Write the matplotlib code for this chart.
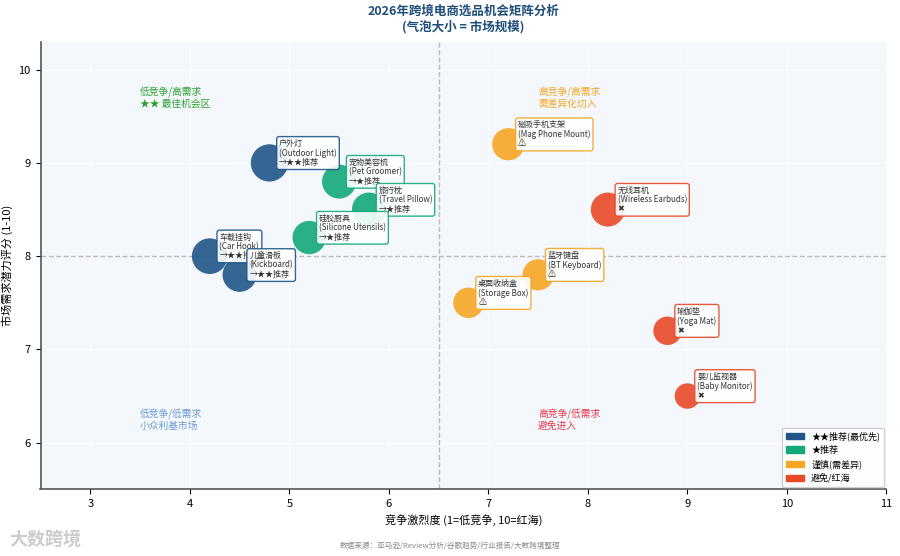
import matplotlib
matplotlib.use("Agg")
import matplotlib.pyplot as plt
from matplotlib.patches import Patch

plt.rcParams['font.family'] = ['Noto Sans CJK SC', 'DejaVu Sans']

names_cn = ["户外灯", "车载挂钩", "儿童滑板", "宠物美容梳", "旅行枕", "硅胶厨具",
            "磁吸手机支架", "蓝牙键盘", "桌面收纳盒", "无线耳机", "瑜伽垫", "婴儿监视器"]
names_en = ["Outdoor Light", "Car Hook", "Kickboard", "Pet Groomer", "Travel Pillow", "Silicone Utensils",
            "Mag Phone Mount", "BT Keyboard", "Storage Box", "Wireless Earbuds", "Yoga Mat", "Baby Monitor"]
competition = [4.8, 4.2, 4.5, 5.5, 5.8, 5.2, 7.2, 7.5, 6.8, 8.2, 8.8, 9.0]
demand = [9.0, 8.0, 7.8, 8.8, 8.5, 8.2, 9.2, 7.8, 7.5, 8.5, 7.2, 6.5]
market = [60, 55, 50, 50, 50, 48, 45, 42, 40, 50, 35, 28]
group = [0, 0, 0, 1, 1, 1, 2, 2, 2, 3, 3, 3]
group_colors = ["#1f5588", "#13a97a", "#f5a623", "#e84a27"]
group_tags = ["→★★推荐", "→★推荐", "⚠", "✖"]
legend_labels = ["★★推荐(最优先)", "★推荐", "谨慎(需差异)", "避免/红海"]

fig = plt.figure(figsize=(9, 5.56), dpi=100)
ax = fig.add_axes([0.045, 0.12, 0.94, 0.805])
ax.set_facecolor("#f4f8fd")
ax.set_xlim(2.5, 11)
ax.set_ylim(5.5, 10.3)
ax.grid(True, color="#fbfdff", lw=0.8)
ax.axvline(6.5, color="#bbbbbb", ls="--", lw=1)
ax.axhline(8, color="#bbbbbb", ls="--", lw=1)
for s in ["top", "right"]:
    ax.spines[s].set_visible(False)
for s in ["left", "bottom"]:
    ax.spines[s].set_color("#555555")
    ax.spines[s].set_linewidth(1.2)
ax.tick_params(labelsize=8)

for i in range(len(names_cn)):
    c = group_colors[group[i]]
    ax.scatter(competition[i], demand[i], s=market[i] * 12, color=c, alpha=0.9, zorder=3, edgecolors="none")
    ax.annotate(f"{names_cn[i]}\n({names_en[i]})\n{group_tags[group[i]]}",
                (competition[i], demand[i]), xytext=(7, -3), textcoords="offset points",
                fontsize=5.8, color="#333333", va="bottom", ha="left", zorder=4, linespacing=1.05,
                bbox=dict(boxstyle="round,pad=0.3", fc="white", ec=c, lw=1, alpha=0.9))

ax.text(3.5, 9.6, "低竞争/高需求\n★★ 最佳机会区", fontsize=7, color="#2ca02c")
ax.text(7.5, 9.6, "高竞争/高需求\n需差异化切入", fontsize=7, color="#f5a623")
ax.text(3.5, 6.15, "低竞争/低需求\n小众利基市场", fontsize=7, color="#6a9bd1")
ax.text(7.5, 6.15, "高竞争/低需求\n避免进入", fontsize=7, color="#e8394a")

ax.set_xlabel("竞争激烈度 (1=低竞争, 10=红海)", fontsize=8)
ax.set_ylabel("市场需求潜力评分 (1-10)", fontsize=8)
ax.set_title("2026年跨境电商选品机会矩阵分析\n(气泡大小 = 市场规模)", fontsize=9,
             fontweight="bold", color="#1f4e79", pad=8)

handles = [Patch(color=c) for c in group_colors]
ax.legend(handles, legend_labels, loc="lower right", fontsize=6.5, framealpha=0.9,
          borderaxespad=0.3)

fig.text(0.5, 0.015, "数据来源：亚马逊/Review分析/谷歌趋势/行业报告/大数跨境整理", ha="center", fontsize=5.5, color="#888888")
fig.text(0.01, 0.02, "大数跨境", fontsize=13, color="#cccccc", fontweight="bold")

fig.savefig("out.png", dpi=100)
